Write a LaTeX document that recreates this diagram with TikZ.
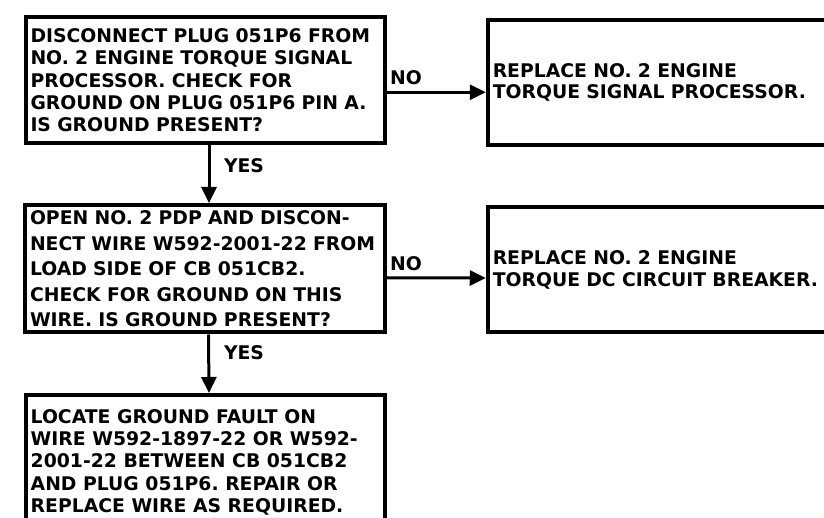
\documentclass[tikz,border=0pt]{standalone}
\usepackage{fontspec}
\setsansfont{DejaVu Sans}
\usetikzlibrary{arrows.meta}
\newcommand{\bxfont}[1]{\sffamily\bfseries\frenchspacing\fontsize{18.8}{#1}\selectfont}
\tikzset{
  box/.style={draw, line width=4pt, align=left, inner xsep=5pt, inner ysep=0pt, anchor=center},
  conn/.style={line width=3pt, -{Triangle[length=16pt,width=15pt]}},
  lbl/.style={font=\bxfont{22}, inner sep=0pt}
}
\begin{document}
\begin{tikzpicture}[x=1pt,y=-1pt]
\useasboundingbox (0,0) rectangle (824,518);
\clip (0,0) rectangle (824,518);
% decision 1
\node[box, font=\bxfont{22.25}, text width=349pt, minimum height=126.5pt] (b1) at (205,80.25)
  {DISCONNECT PLUG 051P6 FROM\\NO. 2 ENGINE TORQUE SIGNAL\\PROCESSOR. CHECK FOR\\GROUND ON PLUG 051P6 PIN A.\\IS GROUND PRESENT?};
% action 1
\node[box, font=\bxfont{21}, text width=432pt, minimum height=125.5pt] (b2) at (708.75,82.75)
  {REPLACE NO. 2 ENGINE\\TORQUE SIGNAL PROCESSOR.};
% decision 2
\node[box, font=\bxfont{25.5}, text width=350pt, minimum height=127.5pt] (b3) at (205,268.75)
  {OPEN NO. 2 PDP AND DISCON-\\NECT WIRE W592-2001-22 FROM\\LOAD SIDE OF CB 051CB2.\\CHECK FOR GROUND ON THIS\\WIRE. IS GROUND PRESENT?};
% action 2
\node[box, font=\bxfont{22}, text width=432pt, minimum height=125pt] (b4) at (708.75,270)
  {REPLACE NO. 2 ENGINE\\TORQUE DC CIRCUIT BREAKER.};
% final action (frame runs past the lower edge)
\node[box, minimum width=359pt, minimum height=150pt] (b5) at (205.5,470) {};
\node[font=\bxfont{22.3}, align=left, anchor=north west, inner sep=0pt] (t5) at ([xshift=6.5pt,yshift=-16pt]b5.north west)
  {LOCATE GROUND FAULT ON\\WIRE W592-1897-22 OR W592-\\2001-22 BETWEEN CB 051CB2\\AND PLUG 051P6. REPAIR OR\\REPLACE WIRE AS REQUIRED.};
% connectors
\draw[conn] ([xshift=4pt]b1.south) -- ([xshift=4pt]b3.north);
\draw[conn] ([xshift=3.5pt]b3.south) -- ([xshift=3.5pt]b5.north);
\draw[conn] ([yshift=-12pt]b1.east) -- ([yshift=-9.5pt]b2.west);
\draw[conn] ([yshift=-9pt]b3.east) -- ([yshift=-8pt]b4.west);
% labels
\node[lbl] (yes1) at (244,165.5) {YES};
\node[lbl] (yes2) at (244,353) {YES};
\node[lbl] (no1) at (406,77.5) {NO};
\node[lbl] (no2) at (406,264) {NO};
\end{tikzpicture}
\end{document}
